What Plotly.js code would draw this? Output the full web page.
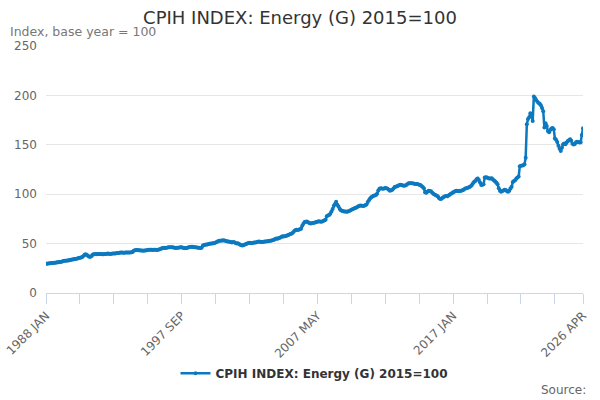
<!DOCTYPE html>
<html>
<head>
<meta charset="utf-8">
<script src="https://cdn.plot.ly/plotly-3.0.1.min.js"></script>
<style>
  html, body { margin: 0; padding: 0; background: #fff; }
  #chart { width: 600px; height: 400px; }
</style>
</head>
<body>
<div id="chart"></div>
<script>
// CPIH INDEX: Energy (G) 2015=100, monthly, 1988 JAN .. 2026 APR
var firstYear = 1988;
var monthNames = ['JAN', 'FEB', 'MAR', 'APR', 'MAY', 'JUN', 'JUL', 'AUG', 'SEP', 'OCT', 'NOV', 'DEC'];

// one row per year
var energyIndex = [
    29.8, 29.6, 29.9, 30.0, 30.2, 30.3, 30.4, 30.5, 30.6, 30.8, 31.0, 31.2,          // 1988
    31.4, 31.7, 32.0, 32.4, 32.6, 32.7, 32.8, 33.0, 33.2, 33.5, 33.8, 34.0,          // 1989
    34.2, 34.3, 34.6, 35.0, 35.3, 35.6, 36.0, 36.5, 37.4, 38.8, 39.2, 38.4,          // 1990
    37.4, 36.8, 36.6, 37.5, 38.9, 39.3, 39.4, 39.3, 39.5, 39.6, 39.5, 39.4,          // 1991
    39.3, 39.2, 39.4, 39.6, 39.8, 39.9, 39.7, 39.6, 39.8, 40.0, 40.1, 40.0,          // 1992
    40.2, 40.4, 40.6, 40.8, 41.0, 40.9, 40.7, 40.8, 40.9, 41.1, 41.0, 40.9,          // 1993
    41.0, 41.2, 41.4, 42.8, 43.2, 43.4, 43.5, 43.3, 43.2, 43.0, 42.9, 42.8,          // 1994
    42.9, 43.1, 43.3, 43.6, 43.8, 43.9, 43.7, 43.6, 43.8, 43.9, 43.7, 43.6,          // 1995
    43.8, 44.2, 44.6, 45.2, 45.6, 45.8, 45.6, 45.7, 46.0, 46.3, 46.4, 46.3,          // 1996
    46.2, 46.0, 45.8, 45.6, 45.7, 45.9, 46.1, 46.3, 46.2, 45.7, 45.5, 45.4,          // 1997
    45.5, 45.8, 46.2, 46.6, 46.8, 46.7, 46.5, 46.4, 46.3, 46.1, 45.9, 45.8,          // 1998
    45.6, 45.8, 47.8, 48.5, 48.8, 49.0, 49.2, 49.5, 49.8, 50.0, 50.2, 50.3,          // 1999
    50.5, 51.0, 51.6, 52.4, 52.8, 53.0, 53.2, 53.1, 53.4, 53.0, 52.6, 52.2,          // 2000
    52.0, 51.8, 51.5, 51.2, 51.6, 51.4, 50.6, 50.2, 50.4, 49.6, 48.8, 48.4,          // 2001
    48.2, 48.5, 49.0, 49.6, 50.2, 50.5, 50.8, 50.6, 50.7, 50.9, 51.0, 51.2,          // 2002
    51.4, 51.8, 52.2, 51.8, 51.5, 51.6, 51.8, 52.0, 52.2, 52.3, 52.5, 52.8,          // 2003
    53.0, 53.2, 53.6, 54.0, 54.8, 55.2, 55.0, 55.6, 56.0, 56.8, 57.4, 57.2,          // 2004
    57.4, 57.8, 58.2, 58.8, 59.2, 59.6, 60.2, 61.0, 62.6, 63.6, 64.0, 63.8,          // 2005
    64.0, 64.4, 65.0, 68.0, 70.2, 71.8, 72.2, 72.4, 71.6, 70.8, 70.4, 70.6,          // 2006
    70.8, 71.0, 71.4, 71.8, 72.2, 72.6, 72.4, 72.0, 72.3, 72.8, 73.6, 74.2,          // 2007
    77.6, 78.4, 79.0, 80.2, 82.6, 85.0, 88.2, 90.0, 92.4, 89.4, 87.6, 85.2,          // 2008
    83.8, 83.2, 82.8, 82.6, 82.4, 82.2, 82.6, 83.0, 83.4, 84.2, 84.8, 85.2,          // 2009
    86.0, 86.4, 87.0, 87.8, 88.4, 88.6, 88.2, 88.0, 88.4, 89.0, 89.6, 92.0,          // 2010
    94.0, 95.6, 96.8, 97.6, 98.4, 98.8, 99.2, 100.4, 103.8, 105.6, 106.0, 105.8,     // 2011
    105.6, 105.8, 106.2, 106.0, 105.4, 104.4, 103.6, 104.0, 104.6, 105.8, 107.4, 107.6, // 2012
    108.0, 108.6, 109.2, 109.6, 109.4, 108.8, 108.6, 108.8, 109.2, 110.2, 111.0, 111.2, // 2013
    111.2, 111.0, 110.8, 110.6, 110.4, 110.2, 110.0, 109.6, 109.2, 108.4, 107.2, 106.0, // 2014
    102.0, 101.4, 102.6, 103.6, 103.2, 103.0, 101.8, 100.4, 99.8, 99.2, 98.4, 97.6,  // 2015
    95.8, 95.2, 95.4, 96.4, 97.2, 97.8, 98.2, 98.0, 98.6, 99.4, 100.4, 101.0,        // 2016
    102.0, 102.6, 103.2, 103.4, 103.2, 103.0, 103.4, 103.6, 104.0, 104.6, 105.6, 106.0, // 2017
    106.4, 106.8, 107.4, 108.0, 109.4, 111.0, 112.6, 113.4, 115.2, 116.0, 114.4, 111.8, // 2018
    109.4, 109.6, 110.0, 116.8, 117.2, 116.8, 116.2, 116.0, 115.8, 116.2, 114.8, 113.8, // 2019
    112.8, 111.6, 110.0, 106.0, 103.4, 102.6, 103.2, 103.8, 104.6, 104.2, 103.0, 102.6, // 2020
    103.4, 105.8, 107.6, 112.4, 113.4, 114.2, 116.0, 117.0, 117.8, 128.4, 128.8, 129.0, // 2021
    129.4, 130.2, 137.0, 170.8, 176.0, 178.0, 182.0, 180.0, 174.2, 199.0, 197.4, 195.4, // 2022
    193.6, 192.4, 191.6, 190.0, 187.2, 184.0, 167.6, 171.8, 169.0, 164.0, 162.8, 165.0, // 2023
    166.4, 167.0, 165.8, 156.4, 155.0, 152.8, 149.0, 146.0, 143.8, 147.0, 150.6, 151.4, // 2024
    150.6, 152.4, 153.8, 154.6, 155.6, 154.2, 151.0, 150.2, 150.8, 152.6, 153.2, 152.8, // 2025
    152.4, 152.6, 160.0, 166.8                                                       // 2026
];

var seriesName = 'CPIH INDEX: Energy (G) 2015=100';

// month labels like "1988 JAN"
var monthLabels = [];
for (var i = 0; i < energyIndex.length; i++) {
    var yr = firstYear + Math.floor(i / 12);
    monthLabels.push(yr + ' ' + monthNames[i % 12]);
}

// tick marks every 29 months, a label on every fourth one, plus the last month
var tickVals = [];
var tickText = [];
for (var k = 0; k < energyIndex.length - 1; k += 29) {
    tickVals.push(monthLabels[k]);
    tickText.push(k % 116 === 0 ? monthLabels[k] : '');
}
tickVals.push(monthLabels[monthLabels.length - 1]);
tickText.push(monthLabels[monthLabels.length - 1]);

var lineColor = '#0c79bf';

var data = [{
    x: monthLabels,
    y: energyIndex,
    name: seriesName,
    type: 'scatter',
    mode: 'lines+markers',
    line: { color: lineColor, width: 2.5 },
    marker: { color: lineColor, size: 4 },
    showlegend: true
}];

var layout = {
    width: 600,
    height: 400,
    margin: { l: 46, r: 17, t: 46, b: 107 },
    paper_bgcolor: '#fff',
    plot_bgcolor: '#fff',
    font: { family: 'DejaVu Sans, sans-serif', color: '#666666', size: 12 },
    title: {
        text: 'CPIH INDEX: Energy (G) 2015=100',
        font: { size: 18, color: '#333333' },
        x: 0.5, xanchor: 'center',
        y: 0.955, yanchor: 'middle'
    },
    xaxis: {
        type: 'category',
        range: [0, energyIndex.length - 1],
        tickmode: 'array',
        tickvals: tickVals,
        ticktext: tickText,
        tickangle: -45,
        ticks: 'outside',
        ticklen: 10,
        tickcolor: '#ccd6eb',
        showline: true,
        linecolor: '#ccd6eb',
        linewidth: 1,
        showgrid: false,
        zeroline: false,
        tickfont: { size: 12, color: '#666666' }
    },
    yaxis: {
        range: [0, 250],
        dtick: 50,
        gridcolor: '#e6e6e6',
        zeroline: false,
        ticks: '',
        ticklabelstandoff: 8,
        tickfont: { size: 12, color: '#666666' }
    },
    legend: {
        orientation: 'h',
        x: 0.5, xanchor: 'center',
        y: -0.325, yanchor: 'middle',
        itemwidth: 30,
        font: { size: 12, color: '#333333', weight: 'bold' }
    },
    annotations: [
        {
            text: 'Index, base year = 100',
            xref: 'paper', yref: 'paper',
            x: -0.071, y: 1.057,
            xanchor: 'left', yanchor: 'middle',
            showarrow: false,
            font: { size: 12.5, color: '#777777' }
        },
        {
            text: 'Source:',
            xref: 'paper', yref: 'paper',
            x: 1.009, y: -0.393,
            xanchor: 'right', yanchor: 'middle',
            showarrow: false,
            font: { size: 12, color: '#666666' }
        }
    ]
};

Plotly.newPlot(document.getElementById('chart'), data, layout, { displayModeBar: false, staticPlot: true });
</script>
</body>
</html>
